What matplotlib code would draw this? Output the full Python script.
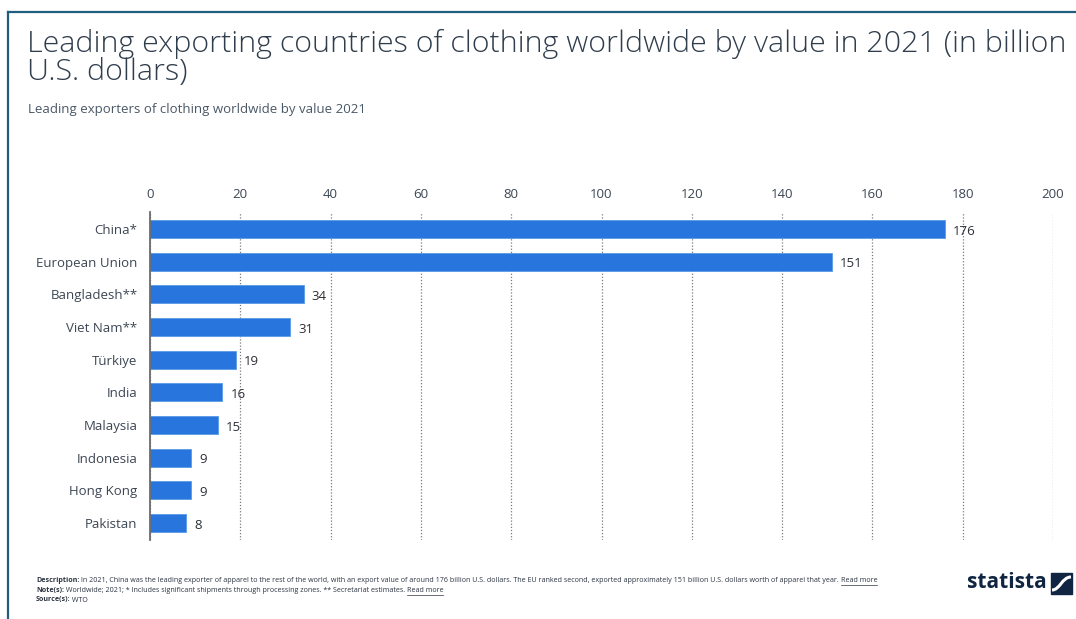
import matplotlib as mpl
mpl.use('Agg')
import matplotlib.pyplot as plt
from matplotlib.lines import Line2D
from matplotlib.patches import Rectangle, PathPatch
from matplotlib.path import Path

countries = ['China*', 'European Union', 'Bangladesh**', 'Viet Nam**', 'Türkiye',
             'India', 'Malaysia', 'Indonesia', 'Hong Kong', 'Pakistan']
values = [176, 151, 34, 31, 19, 16, 15, 9, 9, 8]
x_ticks = [0, 20, 40, 60, 80, 100, 120, 140, 160, 180, 200]

title = 'Leading exporting countries of clothing worldwide by value in 2021 (in billion\nU.S. dollars)'
subtitle = 'Leading exporters of clothing worldwide by value 2021'
footer = [
    ('Description:', ' In 2021, China was the leading exporter of apparel to the rest of the world, '
     'with an export value of around 176 billion U.S. dollars. The EU ranked second, exported '
     'approximately 151 billion U.S. dollars worth of apparel that year.', True),
    ('Note(s):', ' Worldwide; 2021; * Includes significant shipments through processing zones. '
     '** Secretariat estimates.', True),
    ('Source(s):', ' WTO', False),
]

BAR = '#2876dd'
TEXT = '#3c4654'
FRAME = '#1f5e7e'

plt.rcParams['font.family'] = ['Open Sans', 'DejaVu Sans']

W, H = 1076, 619
fig = plt.figure(figsize=(W / 100, H / 100), dpi=100)
fig.patch.set_facecolor('white')

# frame: top and left rules
fig.add_artist(Line2D([7.5 / W, 1], [1 - 11.5 / H, 1 - 11.5 / H], color=FRAME, lw=1.6))
fig.add_artist(Line2D([7.5 / W, 7.5 / W], [0, 1 - 11.5 / H], color=FRAME, lw=1.6))

fig.text(27 / W, 1 - 29 / H, title, fontsize=21.85, color='#2f3d4c', va='top',
         ha='left', linespacing=0.92, fontweight='light')
fig.text(28 / W, 1 - 109 / H, subtitle, fontsize=9.5, color='#4a5866', va='center', ha='left')

ax = fig.add_axes([150 / W, 1 - 540 / H, (1053 - 150) / W, (540 - 212) / H])
pos = list(range(len(countries)))
bars = ax.barh(pos, values, height=0.55, color=BAR, edgecolor='#5a9ae6', linewidth=0.6, zorder=3)
ax.set_ylim(len(countries) - 0.48, -0.52)
ax.set_xlim(0, 200)
ax.set_yticks(pos)
ax.set_yticklabels(countries, fontsize=9.5, color=TEXT)
ax.set_xticks(x_ticks)
ax.set_xticklabels([str(t) for t in x_ticks], fontsize=9.5, color=TEXT)
ax.xaxis.tick_top()
ax.tick_params(axis='both', length=0)
ax.tick_params(axis='x', pad=8)
ax.tick_params(axis='y', pad=9)
for s in ['top', 'right', 'bottom']:
    ax.spines[s].set_visible(False)
ax.spines['left'].set_color('#6b6b6b')
ax.spines['left'].set_linewidth(1.3)
ax.spines['left'].set_zorder(4)
ax.grid(axis='x', linestyle=(0, (1, 1.5)), color='#7a7a7a', linewidth=0.9, zorder=1)
ax.grid(axis='y', visible=False)

for p, v in zip(pos, values):
    ax.annotate(str(v), (v, p), xytext=(6, -1.5), textcoords='offset points',
                va='center', ha='left', fontsize=9.5, color='#2b2f36')

# footer with bold captions
renderer = fig.canvas.get_renderer()
y0 = 581
for i, (lab, txt, more) in enumerate(footer):
    y = 1 - (y0 + i * 9.5) / H
    t1 = fig.text(36 / W, y, lab, fontsize=5.15, fontweight='bold', color='#2b3340', va='center')
    bb = t1.get_window_extent(renderer)
    t2 = fig.text(bb.x1 / W, y, txt, fontsize=5.15, color='#2b3340', va='center')
    if more:
        bb2 = t2.get_window_extent(renderer)
        t3 = fig.text(bb2.x1 / W + 1.5 / W, y, 'Read more', fontsize=5.15, color='#2b3340', va='center')
        bb3 = t3.get_window_extent(renderer)
        fig.add_artist(Line2D([bb3.x0 / W, bb3.x1 / W], [bb3.y0 / H - 0.5 / H] * 2,
                              color='#2b3340', lw=0.5))

# brand mark
fig.text(1047 / W, 1 - 583 / H, 'statista', fontsize=15, fontweight='bold', color='#0f2541',
         ha='right', va='center')
lx, ly, ls = 1051 / W, 1 - 594 / H, 21
fig.add_artist(Rectangle((lx, ly), ls / W, ls / H, color='#0f2541', transform=fig.transFigure))
verts = [(lx + 1 / W, ly + 4 / H), (lx + 9 / W, ly + 4 / H), (lx + 11 / W, ly + 17 / H),
         (lx + 20 / W, ly + 17 / H)]
fig.add_artist(PathPatch(Path(verts, [Path.MOVETO, Path.CURVE4, Path.CURVE4, Path.CURVE4]),
                         fc='none', ec='white', lw=2.2, transform=fig.transFigure))

fig.savefig('out.png', dpi=100, facecolor='white')
